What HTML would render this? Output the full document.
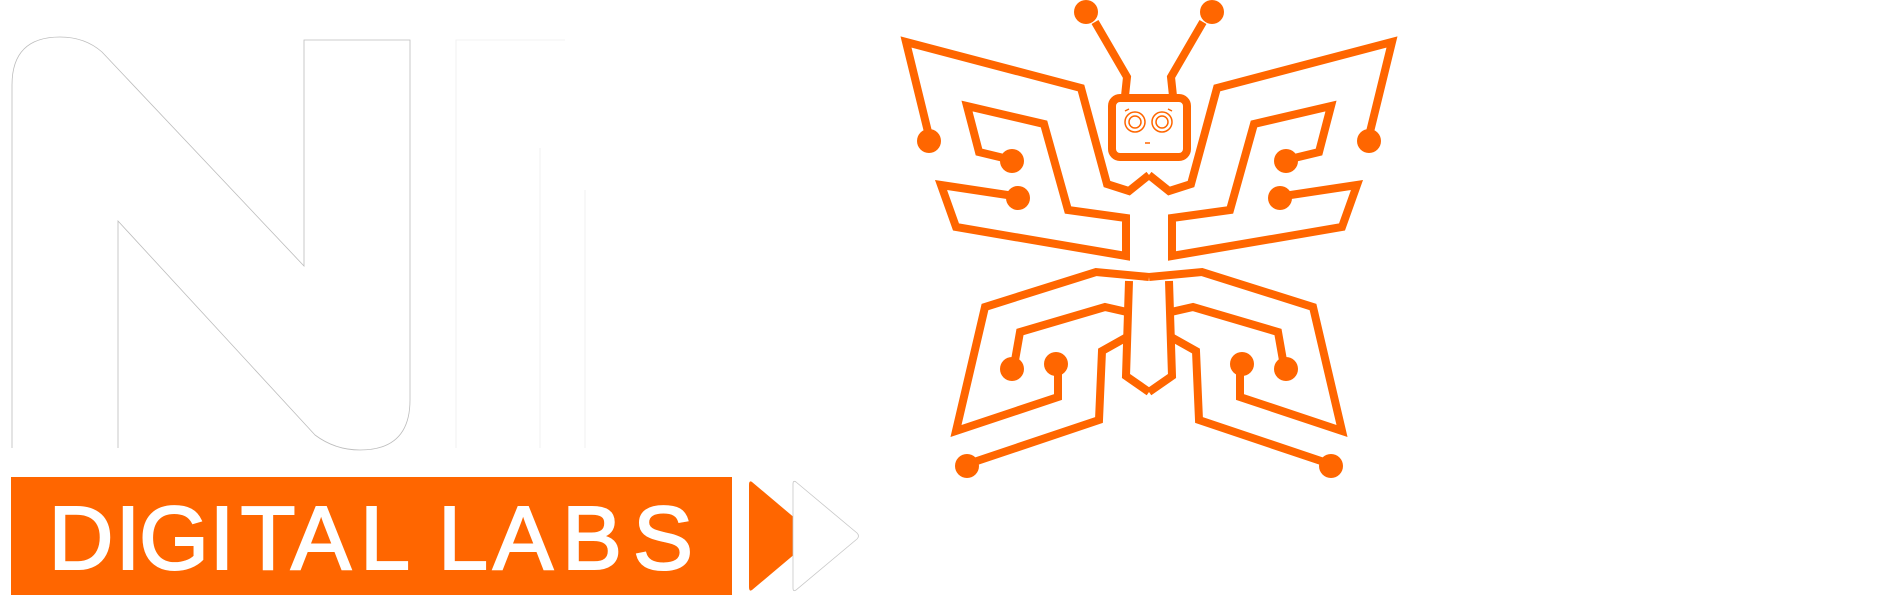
<!DOCTYPE html>
<html><head><meta charset="utf-8"><style>
html,body{margin:0;padding:0;background:#fff;width:1897px;height:599px;overflow:hidden}
svg{display:block}
.lbl{font-family:"Liberation Sans",sans-serif;font-size:90px;fill:#fff;stroke:#fff;stroke-width:2;text-anchor:middle}
</style></head><body>
<svg width="1897" height="599" viewBox="0 0 1897 599">
  <g fill="#fff" stroke="#bdbdbd" stroke-width="0.8">
    <path d="M12,448 L12,85 Q12,37 60,37 Q85,37 102,52 L304,266 L304,40 L410,40 L410,400 Q410,450 360,450 Q335,450 315,435 L118,221 L118,448"/>
  </g>
  <g fill="#fff" stroke="#efefef" stroke-width="0.8">
    <path d="M456,448 L456,40 L565,40 M540,148 L540,448 M585,190 L585,448"/>
  </g>
  <rect x="11" y="477" width="721" height="118" fill="#ff6600"/>
  <text class="lbl" y="569"><tspan x="81">D</tspan><tspan x="128">I</tspan><tspan x="174">G</tspan><tspan x="222">I</tspan><tspan x="268">T</tspan><tspan x="321">A</tspan><tspan x="385">L</tspan><tspan x="463">L</tspan><tspan x="523">A</tspan><tspan x="592">B</tspan><tspan x="663">S</tspan></text>
  <path d="M752,482 L809,530 Q812,536 809,542 L752,590 Q749,592 749,587 L749,485 Q749,480 752,482 Z" fill="#ff6600"/>
  <path d="M796,482 L857,533 Q860,536 857,539 L796,590 Q793,592 793,588 L793,484 Q793,480 796,482 Z" fill="#fff" stroke="#c8c8c8" stroke-width="0.8"/>
  <g fill="none" stroke="#ff6600" stroke-width="8" stroke-linejoin="miter">
    <g>
      <polyline points="1173,96 1171,77 1203,22"/>
      <circle cx="1212" cy="12" r="12" fill="#ff6600" stroke="none"/>
      <polyline points="1149,175 1169,191 1191,184 1217,88 1392,42 1368,140"/>
      <circle cx="1369" cy="141" r="12" fill="#ff6600" stroke="none"/>
      <polyline points="1286,160 1319,152 1331,106 1254,124 1230,210 1172,218 1172,256 1342,227 1357,185 1284,196"/>
      <circle cx="1286" cy="161" r="12" fill="#ff6600" stroke="none"/>
      <circle cx="1280" cy="198" r="12" fill="#ff6600" stroke="none"/>
      <polyline points="1149,277 1202,272 1313,307 1342,431 1240,397 1240,368"/>
      <circle cx="1242" cy="364" r="12" fill="#ff6600" stroke="none"/>
      <polyline points="1171,312 1193,307 1278,332 1284,366"/>
      <circle cx="1286" cy="369" r="12" fill="#ff6600" stroke="none"/>
      <polyline points="1171,337 1196,351 1199,420 1327,463"/>
      <circle cx="1331" cy="466" r="12" fill="#ff6600" stroke="none"/>
      <polyline points="1169,281 1172,376 1149,392"/>
    </g>
    <g transform="matrix(-1 0 0 1 2298 0)">
      <polyline points="1173,96 1171,77 1203,22"/>
      <circle cx="1212" cy="12" r="12" fill="#ff6600" stroke="none"/>
      <polyline points="1149,175 1169,191 1191,184 1217,88 1392,42 1368,140"/>
      <circle cx="1369" cy="141" r="12" fill="#ff6600" stroke="none"/>
      <polyline points="1286,160 1319,152 1331,106 1254,124 1230,210 1172,218 1172,256 1342,227 1357,185 1284,196"/>
      <circle cx="1286" cy="161" r="12" fill="#ff6600" stroke="none"/>
      <circle cx="1280" cy="198" r="12" fill="#ff6600" stroke="none"/>
      <polyline points="1149,277 1202,272 1313,307 1342,431 1240,397 1240,368"/>
      <circle cx="1242" cy="364" r="12" fill="#ff6600" stroke="none"/>
      <polyline points="1171,312 1193,307 1278,332 1284,366"/>
      <circle cx="1286" cy="369" r="12" fill="#ff6600" stroke="none"/>
      <polyline points="1171,337 1196,351 1199,420 1327,463"/>
      <circle cx="1331" cy="466" r="12" fill="#ff6600" stroke="none"/>
      <polyline points="1169,281 1172,376 1149,392"/>
    </g>
    <rect x="1112" y="98" width="75" height="59" rx="8"/>
    <g stroke-width="1.5">
      <circle cx="1135" cy="122" r="10"/><circle cx="1135" cy="122" r="6"/>
      <circle cx="1162" cy="122" r="10"/><circle cx="1162" cy="122" r="6"/>
      <path d="M1125,111 l4,-2 M1172,111 l-4,-2 M1145,143 h5"/>
    </g>
  </g>
</svg>
</body></html>
